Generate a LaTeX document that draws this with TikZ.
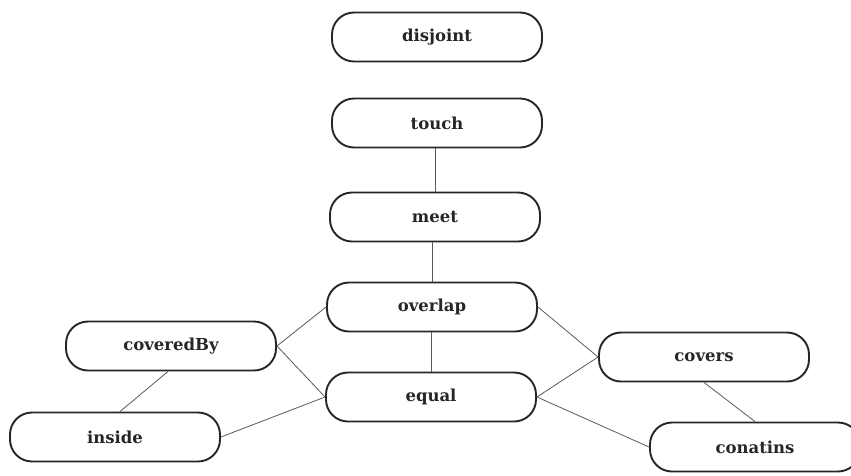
\documentclass[tikz,border=0pt]{standalone}
\usepackage{fontspec}
\setmainfont{DejaVu Serif}
\begin{document}
\begin{tikzpicture}[x=1pt,y=-1pt,
  relbox/.style={draw=black!85, line width=1.9pt, rectangle, rounded corners=22pt,
    minimum width=210pt, minimum height=49pt, inner sep=0pt,
    font=\fontsize{16.5}{19}\selectfont\bfseries, text=black!85},
  link/.style={draw=black!65, line width=0.8pt}]
\useasboundingbox (0,0) rectangle (851,475);
\clip (0,0) rectangle (851,475);

% relation nodes
\node[relbox] (disjoint)  at (437,37)  {disjoint};
\node[relbox] (touch)     at (437,123) {touch};
\node[relbox] (meet)      at (435,217) {meet};
\node[relbox] (overlap)   at (432,307) {overlap};
\node[relbox] (equal)     at (431,397) {equal};
\node[relbox] (coveredBy) at (171,346) {coveredBy};
\node[relbox] (inside)    at (115,437) {inside};
\node[relbox] (covers)    at (704,357) {covers};
\node[relbox] (conatins)  at (755,447) {conatins};

% links between relations
\draw[link] (touch.south -| meet) -- (meet.north);
\draw[link] (meet.south -| overlap) -- (overlap.north);
\draw[link] (overlap.south -| equal) -- (equal.north);
\draw[link] (overlap.west) -- (coveredBy.east);
\draw[link] (coveredBy.east) -- (equal.west);
\draw[link] ([xshift=-3pt]coveredBy.south) -- ([xshift=5pt]inside.north);
\draw[link] (inside.east) -- (equal.west);
\draw[link] (overlap.east) -- (covers.west);
\draw[link] (equal.east) -- (covers.west);
\draw[link] (equal.east) -- (conatins.west);
\draw[link] (covers.south) -- (conatins.north);
\end{tikzpicture}
\end{document}
